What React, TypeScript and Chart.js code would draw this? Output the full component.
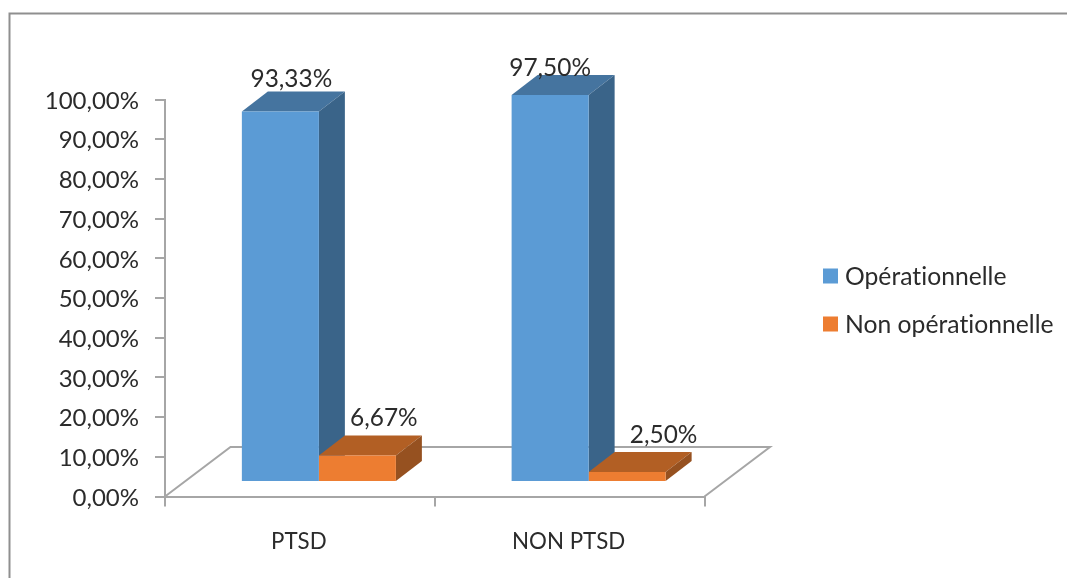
import React, { useEffect, useRef } from "react";
import { Chart, registerables } from "chart.js";

Chart.register(...registerables);

const categories = ["PTSD", "NON PTSD"];
const seriesNames = ["Opérationnelle", "Non opérationnelle"];
const operationalValues = [93.33, 97.5];
const nonOperationalValues = [6.67, 2.5];
const seriesValues = [operationalValues, nonOperationalValues];

const frontColors = ["#5b9bd5", "#ed7d31"];
const topColors = ["#45749f", "#b25f24"];
const sideColors = ["#3a6489", "#965120"];

// Hand-placed data label offsets from the top centre of each bar's front face.
const labelOffsets = [
  [[11, -32.5], [0, -26.5]],
  [[26.5, -37.5], [36.5, -36.5]],
];

const FONT = "Lato, Carlito, 'Noto Sans', sans-serif";
const TICK_SIZE = 24;
const CATEGORY_SIZE = 22.3;
const VALUE_SIZE = 24.4;
const LEGEND_SIZE = 24.7;
const TEXT = "#2b2b2b";
const AXIS = "#a6a6a6";

// Oblique projection of the floor and of the bars' depth.
const FLOOR_DX = 65.5;
const FLOOR_DY = 49.5;
const BAR_SHIFT_X = 19;
const BAR_SHIFT_Y = 14.5;
const BAR_DX = 26;
const BAR_DY = 20;

const formatPercent = (v: number) => v.toFixed(2).replace(".", ",") + "%";

const polygon = (ctx: CanvasRenderingContext2D, pts: number[][], fill: string) => {
  ctx.beginPath();
  pts.forEach(([x, y], i) => (i ? ctx.lineTo(x, y) : ctx.moveTo(x, y)));
  ctx.closePath();
  ctx.fillStyle = fill;
  ctx.fill();
};

const box3d = {
  id: "box3d",
  beforeDatasetsDraw(chart: any) {
    const { ctx, chartArea: a } = chart;
    ctx.save();
    ctx.beginPath();
    ctx.moveTo(a.left, a.bottom);
    ctx.lineTo(a.left + FLOOR_DX, a.bottom - FLOOR_DY);
    ctx.lineTo(a.right + FLOOR_DX, a.bottom - FLOOR_DY);
    ctx.lineTo(a.right, a.bottom);
    ctx.strokeStyle = AXIS;
    ctx.lineWidth = 2;
    ctx.stroke();
    ctx.restore();

    // The shift stays active until the datasets have been painted.
    ctx.save();
    ctx.translate(BAR_SHIFT_X, -BAR_SHIFT_Y);
    seriesValues.forEach((_, s) => {
      chart.getDatasetMeta(s).data.forEach((bar: any) => {
        const l = bar.x - bar.width / 2;
        const r = bar.x + bar.width / 2;
        polygon(ctx, [[l, bar.y], [l + BAR_DX, bar.y - BAR_DY], [r + BAR_DX, bar.y - BAR_DY], [r, bar.y]], topColors[s]);
        polygon(ctx, [[r, bar.y], [r + BAR_DX, bar.y - BAR_DY], [r + BAR_DX, bar.base - BAR_DY], [r, bar.base]], sideColors[s]);
      });
    });
  },
  afterDatasetsDraw(chart: any) {
    chart.ctx.restore();
  },
  afterDraw(chart: any) {
    const { ctx, width, height } = chart;
    ctx.save();
    // Frame around the chart, open on the right and at the bottom.
    ctx.beginPath();
    ctx.moveTo(9.5, height);
    ctx.lineTo(9.5, 13.5);
    ctx.lineTo(width, 13.5);
    ctx.strokeStyle = "#8f8f8f";
    ctx.lineWidth = 2;
    ctx.stroke();

    ctx.font = `${VALUE_SIZE}px ${FONT}`;
    ctx.fillStyle = TEXT;
    ctx.textAlign = "center";
    ctx.textBaseline = "middle";
    seriesValues.forEach((values, s) => {
      chart.getDatasetMeta(s).data.forEach((bar: any, i: number) => {
        const [ox, oy] = labelOffsets[s][i];
        ctx.fillText(formatPercent(values[i]), bar.x + BAR_SHIFT_X + ox, bar.y - BAR_SHIFT_Y + oy);
      });
    });

    // Legend block to the right of the plot; the tiny spacing keeps "ti" unligatured.
    ctx.font = `${LEGEND_SIZE}px ${FONT}`;
    (ctx as any).letterSpacing = "0.01px";
    ctx.textAlign = "left";
    seriesNames.forEach((name, s) => {
      const cy = 276 + s * 48;
      ctx.fillStyle = frontColors[s];
      ctx.fillRect(823, cy - 7.5, 15, 15);
      ctx.fillStyle = TEXT;
      ctx.fillText(name, 845, cy + 1);
    });
    ctx.restore();
  },
};

export default function App() {
  const ref = useRef<HTMLCanvasElement>(null);
  useEffect(() => {
    const chart = new Chart(ref.current!, {
      type: "bar",
      data: {
        labels: categories,
        datasets: seriesNames.map((label, s) => ({
          label,
          data: seriesValues[s],
          backgroundColor: frontColors[s],
          categoryPercentage: 0.571,
          barPercentage: 1,
        })),
      },
      options: {
        animation: false,
        responsive: false,
        layout: { padding: { left: 0, right: 362.5, top: 99.5, bottom: 0 } },
        plugins: { legend: { display: false }, tooltip: { enabled: false } },
        scales: {
          x: {
            afterFit: (s: any) => { s.height = 81.5; },
            grid: { drawOnChartArea: false, color: AXIS, lineWidth: 2, tickLength: 10 },
            border: { color: AXIS, width: 2 },
            ticks: { color: TEXT, font: { family: FONT, size: CATEGORY_SIZE }, padding: 22, labelOffset: -1, maxRotation: 0 },
          },
          y: {
            min: 0,
            max: 100,
            afterFit: (s: any) => { s.width = 165; },
            grid: { drawOnChartArea: false, color: AXIS, lineWidth: 2, tickLength: 10 },
            border: { color: AXIS, width: 2 },
            ticks: {
              stepSize: 10,
              color: TEXT,
              font: { family: FONT, size: TICK_SIZE },
              padding: 16,
              labelOffset: 1.5,
              callback: (v: any) => formatPercent(Number(v)),
            },
          },
        },
      },
      plugins: [box3d],
    } as any);
    return () => chart.destroy();
  }, []);
  return (
    <canvas
      ref={ref}
      width={1067}
      height={578}
      style={{ position: "fixed", left: 0, top: 0, display: "block" }}
    />
  );
}
